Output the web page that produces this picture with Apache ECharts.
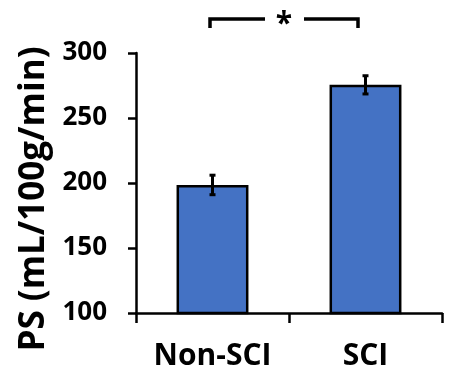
<!DOCTYPE html>
<html><head><meta charset="utf-8">
<script src="https://cdn.jsdelivr.net/npm/echarts@6/dist/echarts.min.js"></script>
<style>html,body{margin:0;padding:0;background:#fff}#c{width:457px;height:391px}</style>
</head><body><div id="c"></div>
<script>
var categories = ['Non-SCI', 'SCI'];
var values = [198.5, 275.5];
var errors = [7.5, 7];
var yTicks = [100, 150, 200, 250, 300];
var yTitle = 'PS (mL/100g/min)';
var sigMark = '*';

var FONT = '"Open Sans", "Liberation Sans", sans-serif';
var chart = echarts.init(document.getElementById('c'), null, {renderer: 'canvas'});
var errData = values.map(function (v, i) { return [i, v - errors[i], v + errors[i]]; });

chart.setOption({
  animation: false,
  backgroundColor: '#fff',
  grid: {left: 136, right: 15, top: 53, bottom: 78},
  xAxis: {
    type: 'category', data: categories,
    axisLine: {lineStyle: {color: '#000', width: 2.5}},
    axisTick: {show: true, interval: 0, alignWithLabel: false, length: 10, lineStyle: {color: '#000', width: 2.5}},
    axisLabel: {interval: 0, hideOverlap: false, color: '#000', fontFamily: FONT, fontWeight: 'bold', fontSize: 30, margin: 28}
  },
  yAxis: {
    type: 'value', min: yTicks[0], max: yTicks[yTicks.length - 1], interval: 50,
    name: yTitle, nameLocation: 'middle', nameGap: 82, nameRotate: 90,
    nameTextStyle: {color: '#000', fontFamily: FONT, fontWeight: 'bold', fontSize: 35, padding: [0, 32, 0, 0]},
    axisLine: {show: true, lineStyle: {color: '#000', width: 2.5}},
    axisTick: {show: true, length: 8, lineStyle: {color: '#000', width: 2.5}},
    axisLabel: {color: '#000', fontFamily: FONT, fontWeight: 'bold', fontSize: 26, margin: 29},
    splitLine: {show: false}
  },
  series: [{
    type: 'bar', data: values, barWidth: '47%',
    itemStyle: {color: '#4472C4', borderColor: '#000', borderWidth: 2.5}
  }, {
    type: 'custom', data: errData, z: 10,
    renderItem: function (params, api) {
      var x = api.value(0);
      var lo = api.coord([x, api.value(1)]);
      var hi = api.coord([x, api.value(2)]);
      var w = 3;
      var st = {stroke: '#000', lineWidth: 3};
      return {type: 'group', children: [
        {type: 'line', shape: {x1: lo[0], y1: lo[1], x2: hi[0], y2: hi[1]}, style: st},
        {type: 'line', shape: {x1: lo[0] - w, y1: lo[1], x2: lo[0] + w, y2: lo[1]}, style: st},
        {type: 'line', shape: {x1: hi[0] - w, y1: hi[1], x2: hi[0] + w, y2: hi[1]}, style: st}
      ]};
    }
  }],
  graphic: [
    {type: 'polyline', shape: {points: [[210, 28], [210, 19], [265, 19]]}, style: {stroke: '#000', lineWidth: 3.5, fill: null}},
    {type: 'polyline', shape: {points: [[304, 19], [358, 19], [358, 28]]}, style: {stroke: '#000', lineWidth: 3.5, fill: null}},
    {type: 'text', x: 284, y: 24, style: {text: sigMark, fill: '#000', font: 'bold 30px ' + FONT, textAlign: 'center', textVerticalAlign: 'middle'}}
  ]
});
</script></body></html>
